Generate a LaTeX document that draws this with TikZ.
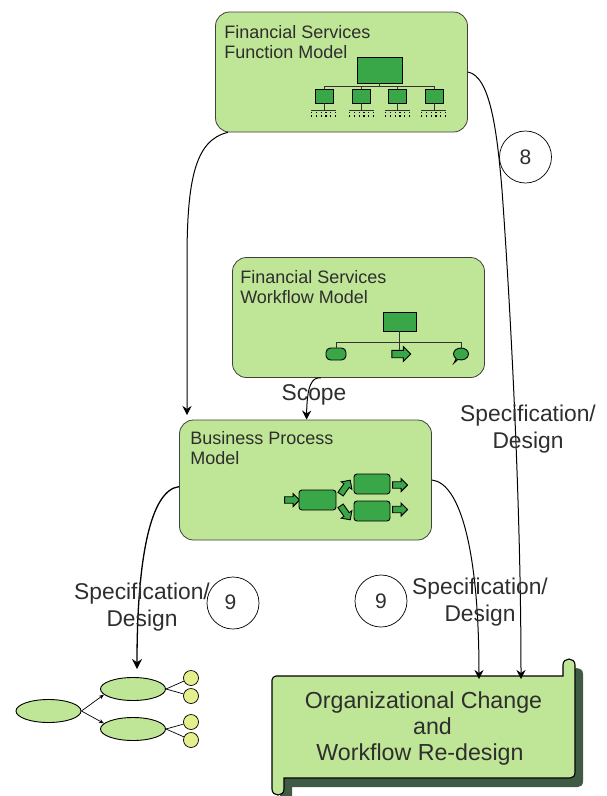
\documentclass[tikz,border=0pt]{standalone}
\usepackage{fontspec}
\setmainfont{Liberation Sans}
\usepackage{tikz}
\usetikzlibrary{positioning,arrows.meta,shapes.geometric,shapes.arrows,shapes.callouts}
\definecolor{boxgreen}{HTML}{BFE596}
\definecolor{icongreen}{HTML}{39A648}
\definecolor{leafyellow}{HTML}{E5F08C}
\definecolor{shadowgreen}{HTML}{3F5B45}
\definecolor{inktext}{HTML}{2E2E2E}
\newcommand{\changeoutline}{(276,676) -- (563,676) -- (563,665) .. controls (563,657) and (575,657) .. (575,665) -- (575,772) .. controls (575,776) and (573,778) .. (570,778) -- (284,778) -- (284,789) .. controls (284,797) and (272,797) .. (272,789) -- (272,680) .. controls (272,678) and (274,676) .. (276,676) -- cycle}

\begin{document}
\begin{tikzpicture}[x=1pt, y=-1pt, font=\color{inktext},
    model/.style = {draw=black!75, fill=boxgreen, rounded corners=14pt, line width=.8pt, minimum width=252pt, minimum height=120pt},
    title/.style = {font=\fontsize{18}{20}\selectfont\color{inktext}, align=left, inner sep=0pt, anchor=north west},
    tag/.style = {font=\fontsize{22.8}{27}\selectfont\color{inktext}, align=center, inner sep=0pt},
    num/.style = {draw, circle, line width=.7pt, minimum size=52pt, inner sep=0pt, font=\fontsize{21}{24}\selectfont\color{inktext}},
    icon/.style = {draw, fill=icongreen, line width=.9pt, inner sep=0pt},
    flow/.style = {icon, single arrow, single arrow head extend=2pt, minimum height=15pt, minimum width=13pt, inner sep=1.5pt},
    oval/.style = {draw, ellipse, fill=boxgreen, line width=.9pt, minimum width=65pt, minimum height=23pt, inner sep=0pt},
    leaf/.style = {draw, circle, fill=leafyellow, line width=.7pt, minimum size=15pt, inner sep=0pt},
    link/.style = {line width=1pt, -{Stealth[length=9pt, width=9pt]}},
    bus/.style = {line width=.9pt, draw=black!80}]
\useasboundingbox (0,0) rectangle (606,796);

% three model boxes
\node[model] (function) at (341.5,72) {};
\node[model] (workflow) at (358.5,317.5) {};
\node[model] (bpm) at (305.5,480) {};
\node[title, below right=14pt and 9pt of function.north west, anchor=north west] (functiontext) {Financial Services\\Function Model};
\node[title, below right=13pt and 8pt of workflow.north west, anchor=north west] (workflowtext) {Financial Services\\Workflow Model};
\node[title, below right=12pt and 11pt of bpm.north west, anchor=north west] (bpmtext) {Business Process\\Model};

% function icon
\node[icon, minimum width=45pt, minimum height=26pt] (froot) at (379.5,70) {};
\node[icon, minimum width=18pt, minimum height=14pt] (f1) at (324,96) {};
\node[icon, minimum width=18pt, minimum height=14pt] (f2) at (361,96) {};
\node[icon, minimum width=18pt, minimum height=14pt] (f3) at (397.5,96) {};
\node[icon, minimum width=18pt, minimum height=14pt] (f4) at (434,96) {};
\draw[bus] (froot.south) -- (379.5,86);
\draw[bus] (f1.north) -- (324,86) -- (434,86) -- (f4.north);
\draw[bus] (f2.north) -- (361,86);
\draw[bus] (f3.north) -- (397.5,86);
\draw[bus] (f1.south) -- (324,110) (311,110) -- (336,110);
\draw[bus] (f2.south) -- (361,110) (349,110) -- (374,110);
\draw[bus] (f3.south) -- (397.5,110) (385,110) -- (410,110);
\draw[bus] (f4.south) -- (434,110) (421,110) -- (446,110);
\draw[line width=1.5pt, dash pattern=on 1.2pt off 3.6pt] (311,112.5) -- (336,112.5) (349,112.5) -- (374,112.5) (385,112.5) -- (410,112.5) (421,112.5) -- (446,112.5);
\draw[line width=1.5pt, dash pattern=on 1.2pt off 3.6pt] (311,116) -- (336,116) (349,116) -- (374,116) (385,116) -- (410,116) (421,116) -- (446,116);

% workflow icon
\node[icon, minimum width=33pt, minimum height=19pt] (wroot) at (399.5,321.5) {};
\node[icon, rounded corners=4.5pt, minimum width=20pt, minimum height=12pt] (w1) at (336,354) {};
\node[flow, minimum height=19pt, minimum width=15pt] (w2) at (399.5,354) {};
\node[icon, ellipse, ellipse callout, callout absolute pointer={(454,363)}, minimum width=15pt, minimum height=12pt] (w3) at (461,354) {};
\draw[bus] (wroot.south) -- (w2.north -| wroot.south);
\draw[bus] (w1.north) -- (336,342) -- (461,342) -- (w3.north);

% process icon
\node[flow] (p0) at (290.5,500) {};
\node[icon, rounded corners=3pt, minimum width=37pt, minimum height=20pt] (p1) at (317.5,500) {};
\node[icon, rounded corners=3pt, minimum width=36pt, minimum height=20pt] (p2) at (372,484) {};
\node[icon, rounded corners=3pt, minimum width=36pt, minimum height=20pt] (p3) at (372,511) {};
\node[flow, rotate=55, minimum height=17pt] (p4) at (344.5,488.5) {};
\node[flow, rotate=-55, minimum height=17pt] (p5) at (344.5,511.5) {};
\node[flow] (p6) at (398.5,485) {};
\node[flow] (p7) at (398.5,509.5) {};

% change document
\fill[shadowgreen, shift={(8,9)}] \changeoutline;
\draw[fill=boxgreen, line width=1.1pt] \changeoutline;
\node[minimum width=303pt, minimum height=102pt, inner sep=0pt, align=center, font=\fontsize{23.2}{26}\selectfont\color{inktext}] (change) at (423.5,728.5) {Organizational Change\\\hspace*{18pt}and\\Workflow Re-design\hspace*{7pt}};

% small tree
\node[oval] (root) at (48.5,711) {};
\node[oval] (top) at (133,689) {};
\node[oval] (low) at (133,729) {};
\node[leaf] (l1) at (191,678) {};
\node[leaf] (l2) at (191,696) {};
\node[leaf] (l3) at (191,722) {};
\node[leaf] (l4) at (191,740) {};
\draw[line width=.7pt, -{Stealth[length=5pt, width=4pt]}] (root.east) -- (top.191);
\draw[line width=.7pt, -{Stealth[length=5pt, width=4pt]}] (root.east) -- (low.169);
\draw[line width=.7pt] (top.east) -- (l1);
\draw[line width=.7pt] (top.east) -- (l2);
\draw[line width=.7pt] (low.east) -- (l3);
\draw[line width=.7pt] (low.east) -- (l4);

% connectors
\coordinate (bpmin) at (187,415);
\coordinate (treein) at (137,669);
\coordinate (changein1) at (479,679);
\coordinate (changein2) at (521,679);
\draw[link] (function.208) .. controls (195,140) and (187,180) .. (187,260) -- (bpmin);
\draw[link] (function.east) .. controls (490,76) and (497,130) .. (502,190) .. controls (510,300) and (521,500) .. (changein2);
\draw[link] (workflow.238) .. controls (312,377) and (307,385) .. (bpm.89);
\draw[link, line width=1.3pt, -{Stealth[length=10pt, width=10pt]}] (bpm.183) .. controls (150,490) and (137,560) .. (treein);
\draw[link] (bpm.east) .. controls (460,483) and (479,550) .. (changein1);

% numbers and labels
\node[num] (eight) at (525.5,157) {8};
\node[num] (nineleft) at (233,603) {};
\node[num] (nineright) at (381,601) {9};
\node[font=\fontsize{21}{24}\selectfont\color{inktext}, inner sep=0pt] (nineleftnum) at (230.5,602) {9};
\node[tag] (scope) at (314,395) {Scope};
\node[tag] (specright) at (528,429) {Specification/\\Design};
\node[tag] (specleft) at (142,607.5) {Specification/\\Design};
\node[tag] (specmid) at (480,602.5) {Specification/\\Design};
\end{tikzpicture}
\end{document}
